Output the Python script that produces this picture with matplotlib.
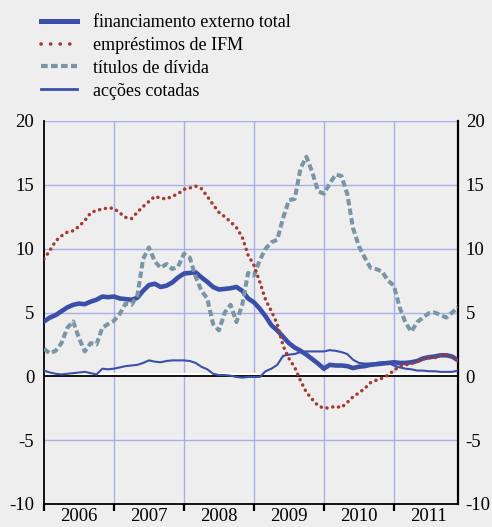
import numpy as np
import matplotlib
matplotlib.use("Agg")
import matplotlib.pyplot as plt
from matplotlib.lines import Line2D
import matplotlib.transforms as mtransforms

plt.rcParams['font.family'] = ['Liberation Serif', 'DejaVu Serif']

years = ["2006", "2007", "2008", "2009", "2010", "2011"]

total = [4.3, 4.6, 4.8, 5.1, 5.4, 5.6, 5.7, 5.65, 5.85, 6.0, 6.25, 6.2,
         6.25, 6.1, 6.05, 6.0, 6.15, 6.7, 7.15, 7.25, 7.0, 7.1, 7.35, 7.75,
         8.05, 8.1, 8.15, 7.75, 7.4, 7.0, 6.8, 6.85, 6.9, 7.0, 6.7, 6.1,
         5.8, 5.3, 4.7, 4.0, 3.6, 3.1, 2.6, 2.25, 2.0, 1.7, 1.35, 1.0,
         0.6, 0.9, 0.85, 0.85, 0.8, 0.65, 0.75, 0.8, 0.9, 0.95, 1.0, 1.05,
         1.1, 1.05, 1.05, 1.1, 1.2, 1.4, 1.5, 1.55, 1.65, 1.65, 1.55, 1.25]

loans = [9.2, 9.85, 10.6, 11.0, 11.3, 11.4, 11.75, 12.2, 12.8, 13.0, 13.1, 13.2,
         13.15, 12.8, 12.45, 12.35, 12.85, 13.3, 13.7, 14.1, 13.95, 13.9, 14.1, 14.3,
         14.65, 14.75, 14.9, 14.7, 14.1, 13.45, 12.85, 12.5, 12.1, 11.65, 10.9, 9.5,
         8.7, 7.4, 6.0, 5.1, 4.1, 2.4, 1.4, 0.7, -0.35, -1.25, -1.8, -2.3,
         -2.5, -2.45, -2.35, -2.45, -2.05, -1.6, -1.3, -0.95, -0.5, -0.3, -0.15, 0.1,
         0.45, 0.8, 0.9, 1.0, 1.15, 1.35, 1.45, 1.45, 1.65, 1.7, 1.5, 1.2]

securities = [2.15, 1.8, 2.0, 2.6, 3.8, 4.3, 3.0, 1.95, 2.6, 2.5, 3.8, 4.1,
              4.35, 4.9, 5.7, 5.6, 6.3, 9.2, 10.1, 9.0, 8.5, 8.8, 8.4, 8.6,
              9.6, 9.3, 7.8, 6.7, 6.1, 4.1, 3.6, 5.0, 5.6, 4.25, 5.6, 8.1,
              7.9, 9.1, 10.0, 10.5, 10.7, 12.4, 13.8, 13.9, 16.3, 17.2, 16.0, 14.5,
              14.3, 15.1, 15.8, 15.7, 14.3, 11.6, 10.2, 9.3, 8.5, 8.4, 8.2, 7.5,
              7.1, 5.4, 4.2, 3.5, 4.25, 4.6, 4.95, 5.0, 4.8, 4.6, 5.0, 5.4]

shares = [0.45, 0.3, 0.2, 0.15, 0.2, 0.25, 0.3, 0.35, 0.25, 0.15, 0.6, 0.55,
          0.6, 0.7, 0.8, 0.85, 0.9, 1.05, 1.25, 1.15, 1.1, 1.2, 1.25, 1.25,
          1.25, 1.2, 1.05, 0.75, 0.55, 0.2, 0.1, 0.1, 0.05, -0.05, -0.1, -0.05,
          -0.05, -0.05, 0.4, 0.6, 0.9, 1.6, 1.7, 1.75, 1.9, 1.95, 1.95, 1.95,
          1.95, 2.05, 2.0, 1.9, 1.75, 1.3, 1.05, 1.0, 1.0, 1.05, 1.1, 1.05,
          0.85, 0.7, 0.6, 0.55, 0.45, 0.45, 0.4, 0.4, 0.35, 0.35, 0.35, 0.45]

labels = ["financiamento externo total", "empréstimos de IFM",
          "títulos de dívida", "acções cotadas"]

BG = "#eeeeee"
BLUE = "#3b4fa8"
RED = "#a33c30"
GREY = "#7896a6"
GRID = "#a9aee6"

W, H = 492, 527
fig = plt.figure(figsize=(W / 100, H / 100), dpi=100, facecolor=BG)
ax = fig.add_axes([44 / W, (H - 504) / H, (458 - 44) / W, (504 - 121) / H])
ax.set_facecolor(BG)

x = np.arange(len(total))
ax.set_xlim(0, 71)
ax.set_ylim(-10, 20)

# grid
for yv in [-5, 5, 10, 15, 20]:
    ax.axhline(yv, color=GRID, lw=1.0, zorder=1)
for k in range(1, 6):
    ax.axvline(12 * k, color=GRID, lw=1.0, zorder=1)

# zero line with white highlight
off = mtransforms.offset_copy(ax.transData, fig=fig, x=0, y=2.0, units='dots')
ax.plot([0, 71], [0, 0], color="white", lw=1.6, transform=off, zorder=2)
ax.axhline(0, color="black", lw=1.3, zorder=2)

l1, = ax.plot(x, total, color=BLUE, lw=3.3, zorder=4, solid_joinstyle='round')
l3, = ax.plot(x, securities, color=GREY, lw=2.9, ls=(0, (1.6, 0.8)), zorder=4)
l4, = ax.plot(x, shares, color=BLUE, lw=1.5, zorder=5)
l2, = ax.plot(x, loans, color=RED, lw=2.5, ls=(0, (0.05, 1.65)),
              dash_capstyle='round', zorder=6)

# spines
ax.spines['top'].set_visible(False)
ax.spines['left'].set_color('black')
ax.spines['left'].set_linewidth(1.3)
ax.spines['right'].set_color('black')
ax.spines['right'].set_linewidth(1.6)
ax.spines['bottom'].set_color('black')
ax.spines['bottom'].set_linewidth(1.3)

ax.set_yticks([-10, -5, 0, 5, 10, 15, 20])
ax.set_yticklabels([str(v) for v in [-10, -5, 0, 5, 10, 15, 20]])
ax.tick_params(axis='y', length=0, labelsize=13.5, pad=7,
               left=True, right=True, labelleft=True, labelright=True)
for t in ax.yaxis.get_major_ticks():
    t.tick1line.set_visible(False)
    t.tick2line.set_visible(False)
    t.label2.set_transform(t.label2.get_transform() +
                           mtransforms.ScaledTranslation(-2 / 100, 0, fig.dpi_scale_trans))

ax.set_xticks([12 * k for k in range(6)])
ax.set_xticklabels([])
ax.set_xticks([6 + 12 * k for k in range(6)], minor=True)
ax.set_xticklabels(years, minor=True)
ax.tick_params(axis='x', which='major', direction='out', length=5, width=1.6,
               color='black')
ax.tick_params(axis='x', which='minor', length=0, labelsize=13.5, pad=3)

handles = [Line2D([], [], color=BLUE, lw=3.6),
           Line2D([], [], color=RED, lw=2.6, ls=(0, (0.05, 2.6)), dash_capstyle='round'),
           Line2D([], [], color=GREY, lw=3.0, ls=(0, (1.6, 0.8))),
           Line2D([], [], color=BLUE, lw=2.0)]
leg = fig.legend(handles, labels, loc='upper left',
                 bbox_to_anchor=(34 / W, 1 - 7 / H), frameon=False,
                 fontsize=13, handlelength=2.0, handletextpad=0.85,
                 labelspacing=0.32, borderaxespad=0)

fig.savefig("out.png", dpi=100, facecolor=BG)
